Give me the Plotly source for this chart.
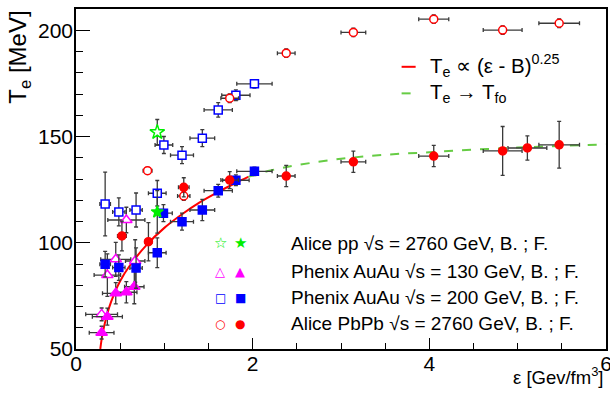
import plotly.graph_objects as go

FONT = "Liberation Sans, Arial, Helvetica, sans-serif"

# ---------------- data ----------------
# Alice PbPb sqrt(s)=2760 GeV
pbpb_b_x = [0.81, 1.22, 1.74, 2.38, 3.14, 4.05, 4.83, 5.47]
pbpb_b_y = [133.9, 122.0, 168.0, 189.2, 199.0, 205.2, 200.1, 203.3]
pbpb_b_xe = [0.05, 0.07, 0.10, 0.10, 0.14, 0.17, 0.22, 0.23]
pbpb_b_ye = [1.5, 2.0, 2.0, 2.0, 2.0, 2.0, 2.0, 2.0]

pbpb_f_x = [0.52, 0.82, 1.22, 1.74, 2.38, 3.14, 4.05, 4.83, 5.11, 5.47]
pbpb_f_y = [103.2, 100.5, 126.1, 129.5, 131.4, 138.1, 140.8, 143.2, 144.6, 146.1]
pbpb_f_xe = [0.05, 0.04, 0.06, 0.10, 0.10, 0.14, 0.17, 0.22, 0.22, 0.23]
pbpb_f_ye = [7.0, 9.0, 4.5, 4.0, 5.0, 5.0, 5.0, 11.5, 5.7, 11.0]

# Phenix AuAu sqrt(s)=200 GeV
au200_b_x = [0.33, 0.485, 0.68, 0.92, 0.995, 1.20, 1.43, 1.61, 1.81, 2.02]
au200_b_y = [118.2, 114.5, 115.4, 123.3, 146.0, 141.2, 149.2, 162.5, 169.4, 174.8]
au200_b_xe = [0.06, 0.07, 0.07, 0.10, 0.10, 0.13, 0.14, 0.16, 0.16, 0.20]
au200_b_ye = [15.0, 6.6, 8.0, 6.0, 4.0, 4.0, 4.0, 3.4, 2.5, 2.0]

au200_f_x = [0.33, 0.485, 0.68, 0.92, 0.99, 1.20, 1.43, 1.61, 1.81, 2.02]
au200_f_y = [89.9, 88.3, 88.1, 95.3, 113.9, 109.9, 115.4, 124.5, 129.4, 133.6]
au200_f_xe = [0.06, 0.07, 0.07, 0.10, 0.10, 0.13, 0.14, 0.16, 0.15, 0.20]
au200_f_ye = [6.0, 6.0, 9.5, 7.0, 4.0, 4.0, 5.0, 3.0, 2.5, 2.0]

# Phenix AuAu sqrt(s)=130 GeV
au130_b_x = [0.29, 0.355, 0.45, 0.57, 0.67]
au130_b_y = [66.3, 84.8, 92.2, 110.7, 91.4]
au130_b_xe = [0.18, 0.15, 0.17, 0.21, 0.11]
au130_b_ye = [3.0, 10.0, 8.0, 6.0, 10.0]

au130_f_x = [0.29, 0.355, 0.45, 0.57, 0.66]
au130_f_y = [57.7, 65.2, 76.2, 76.7, 79.3]
au130_f_xe = [0.14, 0.17, 0.15, 0.12, 0.11]
au130_f_ye = [3.0, 4.0, 5.0, 5.0, 8.0]

# Alice pp sqrt(s)=2760 GeV
pp_b_x = [0.92]
pp_b_y = [152.0]
pp_b_ye = [6.0]
pp_f_x = [0.92]
pp_f_y = [114.5]
pp_f_ye = [10.0]

# curves
fit_x = [0.275, 0.30, 0.35, 0.40, 0.50, 0.60, 0.80, 1.00, 1.20, 1.40, 1.60, 1.80, 1.95]
fit_y = [50.0, 57.0, 66.0, 72.5, 82.0, 88.7, 99.0, 107.0, 113.4, 119.0, 123.7, 128.0, 131.0]
fo_x = [1.95, 2.0, 2.2, 2.5, 3.0, 3.5, 4.0, 4.5, 5.0, 5.5, 6.0]
fo_y = [131.0, 131.6, 134.0, 136.5, 139.5, 141.4, 142.6, 143.8, 144.8, 145.6, 146.3]

legend_rows = [
    ("Alice pp √s = 2760 GeV, B. ; F.", "☆", "★", "#00ee00", 15),
    ("Phenix AuAu √s = 130 GeV, B. ; F.", "△", "▲", "#ff00ff", 13),
    ("Phenix AuAu √s = 200 GeV, B. ; F.", "□", "■", "#0000ff", 12),
    ("Alice PbPb √s = 2760 GeV, B. ; F.", "○", "●", "#ff0000", 12),
]
legend_row_y = [99.7, 86.4, 74.2, 61.8]

ERR = "#3a3a3a"

fig = go.Figure()

fig.add_trace(go.Scatter(x=fo_x, y=fo_y, mode="lines",
                         line=dict(color="#66cc44", width=2, dash="dash", shape="spline"),
                         showlegend=False, hoverinfo="skip"))
fig.add_trace(go.Scatter(x=fit_x, y=fit_y, mode="lines",
                         line=dict(color="#ff0000", width=2, shape="spline"),
                         showlegend=False, hoverinfo="skip"))


def pts(x, y, xe, ye, symbol, size, fill, edge, lw=1.5):
    ex = dict(type="data", array=xe, color=ERR, thickness=1.3, width=2) if xe is not None else None
    fig.add_trace(go.Scatter(
        x=x, y=y, mode="markers",
        error_x=ex,
        error_y=dict(type="data", array=ye, color=ERR, thickness=1.3, width=2),
        marker=dict(symbol=symbol, size=size, color=fill, line=dict(color=edge, width=lw)),
        showlegend=False))


pts(au130_b_x, au130_b_y, au130_b_xe, au130_b_ye, "triangle-up", 10, "white", "#ff00ff")
pts(au130_f_x, au130_f_y, au130_f_xe, au130_f_ye, "triangle-up", 10, "#ff00ff", "#ff00ff")
pts(au200_b_x, au200_b_y, au200_b_xe, au200_b_ye, "square", 8, "white", "#0000ff")
pts(au200_f_x, au200_f_y, au200_f_xe, au200_f_ye, "square", 8, "#0000ff", "#0000ff")
pts(pbpb_b_x, pbpb_b_y, pbpb_b_xe, pbpb_b_ye, "circle", 8, "white", "#ff0000")
pts(pbpb_f_x, pbpb_f_y, pbpb_f_xe, pbpb_f_ye, "circle", 8, "#ff0000", "#ff0000")
pts(pp_b_x, pp_b_y, None, pp_b_ye, "star", 11, "white", "#00ee00")
pts(pp_f_x, pp_f_y, None, pp_f_ye, "star", 9, "#00ee00", "#00ee00")

# ---------------- layout ----------------
ann = []
for (label, so, sf, col, fs), yy in zip(legend_rows, legend_row_y):
    ann.append(dict(x=1.633, y=yy, xref="x", yref="y", text=so, showarrow=False,
                    font=dict(family="DejaVu Sans", size=fs, color=col), xanchor="center", yanchor="middle"))
    ann.append(dict(x=1.86, y=yy, xref="x", yref="y", text=sf, showarrow=False,
                    font=dict(family="DejaVu Sans", size=fs, color=col), xanchor="center", yanchor="middle"))
    ann.append(dict(x=2.407, y=yy, xref="x", yref="y", text=label, showarrow=False,
                    font=dict(family=FONT, size=19, color="black"), xanchor="left", yanchor="middle"))

ann.append(dict(x=3.984, y=183.5, xref="x", yref="y",
                text="T<sub>e</sub> ∝ (ε - B)<sup>0.25</sup>", showarrow=False,
                font=dict(family=FONT, size=20.5, color="black"), xanchor="left", yanchor="middle"))
ann.append(dict(x=3.984, y=170.3, xref="x", yref="y",
                text="T<sub>e</sub> → T<sub>fo</sub>", showarrow=False,
                font=dict(family=FONT, size=20.5, color="black"), xanchor="left", yanchor="middle"))

# axis titles
ann.append(dict(x=-0.107, y=1.0, xref="paper", yref="paper", text="T<sub>e</sub> [MeV]",
                textangle=-90, showarrow=False, font=dict(family=FONT, size=24, color="black"),
                xanchor="center", yanchor="top"))
ann.append(dict(x=1.0, y=-0.078, xref="paper", yref="paper", text="ε [Gev/fm<sup>3</sup>]",
                showarrow=False, font=dict(family=FONT, size=18.5, color="black"),
                xanchor="right", yanchor="middle"))

shapes = [
    dict(type="line", xref="x", yref="y", x0=3.686, x1=3.845, y0=182.8, y1=182.8,
         line=dict(color="#ff0000", width=2)),
    dict(type="line", xref="x", yref="y", x0=3.686, x1=3.845, y0=170.3, y1=170.3,
         line=dict(color="#66cc44", width=2, dash="dash")),
]

fig.update_layout(
    width=610, height=404,
    margin=dict(l=76, r=4, t=9, b=55, autoexpand=False),
    paper_bgcolor="white", plot_bgcolor="white",
    font=dict(family=FONT, size=20, color="black"),
    annotations=ann, shapes=shapes,
    xaxis=dict(range=[0, 6], dtick=2, tick0=0, ticks="inside", ticklen=11, tickwidth=1.2,
               tickcolor="black", showline=True, linecolor="black", linewidth=1.5, mirror=True,
               showgrid=False, zeroline=False, tickfont=dict(size=21), automargin=False,
               ticklabeloverflow="allow", ticklabelstandoff=-5,
               minor=dict(dtick=0.5, ticks="inside", ticklen=6, tickcolor="black", tickwidth=1.2, showgrid=False)),
    yaxis=dict(range=[50, 210], dtick=50, tick0=50, ticks="inside", ticklen=14, tickwidth=1.2,
               tickcolor="black", showline=True, linecolor="black", linewidth=1.5, mirror=True,
               showgrid=False, zeroline=False, tickfont=dict(size=21), automargin=False,
               ticklabeloverflow="allow", ticklabelstandoff=-3,
               minor=dict(dtick=10, ticks="inside", ticklen=7, tickcolor="black", tickwidth=1.2, showgrid=False)),
)

fig.write_html("out.html", config={"displayModeBar": False},
               post_script="document.body.style.margin='0px';")
